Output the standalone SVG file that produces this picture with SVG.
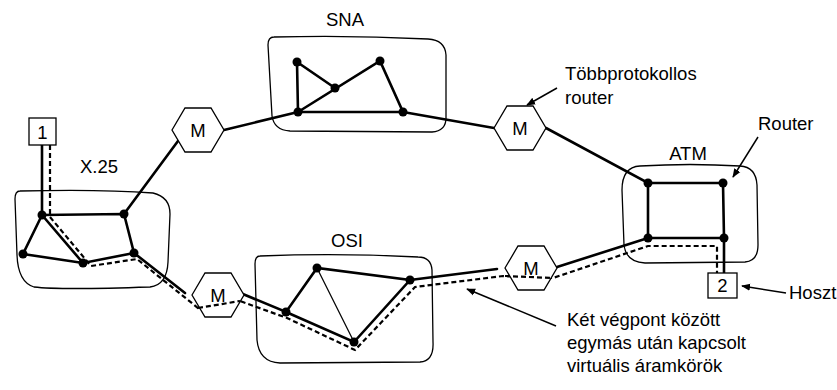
<svg xmlns="http://www.w3.org/2000/svg" width="837" height="390" viewBox="0 0 837 390">
  <style>
    .net { fill: none; stroke: #000; stroke-width: 1.3; }
    .link { fill: none; stroke: #000; stroke-width: 2.6; stroke-linecap: round; }
    .thin { fill: none; stroke: #000; stroke-width: 1.3; }
    .vc { fill: none; stroke: #000; stroke-width: 2.2; stroke-dasharray: 5 3; }
    .hex, .host { fill: #fff; stroke: #000; stroke-width: 1.3; }
    .dot { fill: #000; }
    .lbl { font-family: "Liberation Sans", Arial, sans-serif; font-size: 18.5px; fill: #000; }
    .mid { text-anchor: middle; }
    .ptr { fill: none; stroke: #000; stroke-width: 1.5; marker-end: url(#arrow); }
  </style>
  <defs>
    <marker id="arrow" viewBox="0 0 10 10" refX="9" refY="5" markerWidth="9" markerHeight="9" markerUnits="userSpaceOnUse" orient="auto">
      <path d="M0,1 L10,5 L0,9 Z" fill="#000"/>
    </marker>
  </defs>
  <rect width="837" height="390" fill="#fff"/>

  <!-- network clouds -->
  <g id="x25">
    <path class="net" d="M20,191 Q15,191 15,199 L17,255 Q18,282 34,287 Q60,290 150,287 Q167,285 168,262 L170,214 Q170,197 153,193 Q100,189 20,191 Z"/>
    <text class="lbl" x="80" y="173">X.25</text>
  </g>
  <g id="sna">
    <path class="net" d="M274,37 Q268,37 268,45 L272,116 Q274,130 290,131 L432,132 Q446,131 446,118 L446,55 Q445,40 428,39 Q350,35 274,37 Z"/>
    <text class="lbl mid" x="345" y="26">SNA</text>
  </g>
  <g id="atm">
    <path class="net" d="M640,166 Q622,167 622,190 L624,245 Q626,262 645,263 L745,262 Q758,261 758,245 L757,185 Q756,167 740,166 Q690,163 640,166 Z"/>
    <text class="lbl mid" x="688" y="160">ATM</text>
  </g>
  <g id="osi">
    <path class="net" d="M260,256 Q255,256 255,264 L257,340 Q259,362 280,363 L420,362 Q434,361 433,342 L432,270 Q431,257 418,257 Q340,253 260,256 Z"/>
    <text class="lbl mid" x="347" y="247">OSI</text>
  </g>

  <!-- links and the concatenated virtual circuit -->
  <g id="connectors">
    <!-- X.25 -->
    <path class="link" d="M42,145 L42,215 L124,214 L134,253 L83,263 L23,254 L42,215 L83,263"/>
    <path class="link" d="M124,214 L178,141"/>
    <path class="link" d="M134,253 L185,293"/>
    <!-- SNA -->
    <path class="link" d="M224,130 L298,112 L297,62 L335,88"/>
    <path class="link" d="M298,112 L380,61 L403,112 L298,112"/>
    <path class="link" d="M403,112 L494,128"/>
    <!-- ATM -->
    <path class="link" d="M546,128 L648,183 L723,183 L724,238 L648,238 L648,183"/>
    <path class="link" d="M724,238 L724,273"/>
    <path class="link" d="M648,238 L557,267"/>
    <!-- OSI -->
    <path class="link" d="M238,292 L286,312 L317,268 L410,280 L354,342 L286,312"/>
    <path class="thin" d="M317,268 L354,342"/>
    <path class="link" d="M410,280 L497,269"/>
    <!-- virtual circuit path, host 1 to host 2 -->
    <path class="vc" d="M50,145 L50,217 L91,266 L137,259 L198,308 L240,301 L287,318 L355,350 L415,287 L503,276 L553,278 L648,246 L717,246 L717,273"/>
    <!-- annotation pointers -->
    <path class="ptr" d="M557,88 L527,105"/>
    <path class="ptr" d="M758,137 L733,177"/>
    <path class="ptr" d="M786,293 L742,286"/>
    <path class="ptr" d="M556,326 L467,289"/>
  </g>

  <!-- routers (nodes) -->
  <g id="nodes" class="dot">
    <circle cx="42" cy="215" r="4.5"/>
    <circle cx="124" cy="214" r="4.5"/>
    <circle cx="23" cy="254" r="4.5"/>
    <circle cx="83" cy="263" r="4.5"/>
    <circle cx="134" cy="253" r="4.5"/>
    <circle cx="297" cy="62" r="4.5"/>
    <circle cx="380" cy="61" r="4.5"/>
    <circle cx="335" cy="88" r="4.5"/>
    <circle cx="298" cy="112" r="4.5"/>
    <circle cx="403" cy="112" r="4.5"/>
    <circle cx="648" cy="183" r="4.5"/>
    <circle cx="723" cy="183" r="4.5"/>
    <circle cx="648" cy="238" r="4.5"/>
    <circle cx="724" cy="238" r="4.5"/>
    <circle cx="286" cy="312" r="4.5"/>
    <circle cx="317" cy="268" r="4.5"/>
    <circle cx="410" cy="280" r="4.5"/>
    <circle cx="354" cy="342" r="4.5"/>
  </g>

  <!-- multiprotocol routers -->
  <g id="m1">
    <polygon class="hex" points="172,130 185,108 211,108 224,130 211,152 185,152"/>
    <text class="lbl mid" x="198" y="137">M</text>
  </g>
  <g id="m2">
    <polygon class="hex" points="494,128 507,106 533,106 546,128 533,150 507,150"/>
    <text class="lbl mid" x="520" y="135">M</text>
  </g>
  <g id="m3">
    <polygon class="hex" points="505,268 518,246 544,246 557,268 544,290 518,290"/>
    <text class="lbl mid" x="531" y="275">M</text>
  </g>
  <g id="m4">
    <polygon class="hex" points="192,295 205,273 231,273 244,295 231,317 205,317"/>
    <text class="lbl mid" x="218" y="302">M</text>
  </g>
  <!-- dashed circuit runs through M3 and M4 -->
  <g id="vc-through">
    <path class="vc" d="M198,308 L240,301"/>
    <path class="vc" d="M505,276 L553,278"/>
  </g>

  <!-- hosts -->
  <g id="host1">
    <rect class="host" x="29" y="118" width="27" height="27"/>
    <text class="lbl mid" x="42.5" y="139">1</text>
  </g>
  <g id="host2">
    <rect class="host" x="708" y="273" width="29" height="25"/>
    <text class="lbl mid" x="722.5" y="292">2</text>
  </g>

  <!-- annotations -->
  <g id="labels">
    <text class="lbl" x="565" y="80">Többprotokollos</text>
    <text class="lbl" x="565" y="104">router</text>
    <text class="lbl" x="758" y="130">Router</text>
    <text class="lbl" x="789" y="299">Hoszt</text>
    <text class="lbl" x="567" y="326">Két végpont között</text>
    <text class="lbl" x="567" y="349">egymás után kapcsolt</text>
    <text class="lbl" x="567" y="372">virtuális áramkörök</text>
  </g>
</svg>
